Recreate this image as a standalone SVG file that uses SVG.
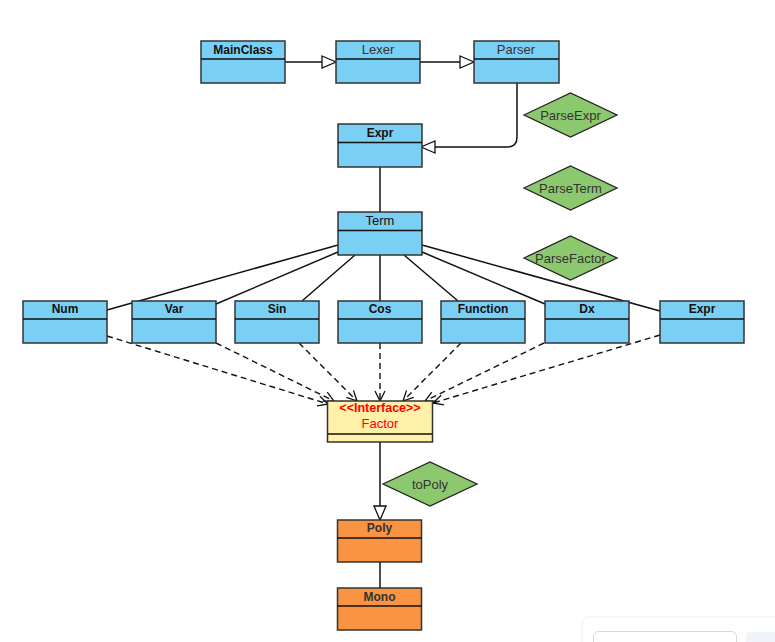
<svg xmlns="http://www.w3.org/2000/svg" width="775" height="642" viewBox="0 0 775 642">
<defs>
<style>
.cls{fill:#7ACFF5;stroke:#333;stroke-width:1.5}
.org{fill:#FA9442;stroke:#333;stroke-width:1.5}
.ifc{fill:#FFF0AA;stroke:#333;stroke-width:1.5}
.dia{fill:#8CC86E;stroke:#222;stroke-width:1.3}
.t{font-family:"Liberation Sans",Arial,sans-serif;font-size:12px;text-anchor:middle}
.b{font-weight:bold;fill:#111}
.r{fill:#333;font-size:13px}
.dt{font-family:"Liberation Sans",Arial,sans-serif;font-size:13px;text-anchor:middle;fill:#333}
.ln{fill:none;stroke:#111;stroke-width:1.5}
.dash{fill:none;stroke:#111;stroke-width:1.4;stroke-dasharray:6 4}
.red{font-family:"Liberation Sans",Arial,sans-serif;text-anchor:middle;fill:#FF0000}
</style>
<marker id="tri" viewBox="0 0 16 14" refX="15" refY="7" markerWidth="16" markerHeight="14" markerUnits="userSpaceOnUse" orient="auto">
<path d="M1,1 L15,7 L1,13 Z" fill="#fff" stroke="#111" stroke-width="1.3"/>
</marker>
<marker id="open" viewBox="0 0 12 12" refX="11" refY="6" markerWidth="12" markerHeight="12" markerUnits="userSpaceOnUse" orient="auto">
<path d="M1,1 L11,6 L1,11" fill="none" stroke="#111" stroke-width="1.3"/>
</marker>
</defs>
<rect width="775" height="642" fill="#fff"/>

<g id="connectors">
<line class="ln" x1="285" y1="62" x2="336" y2="62" marker-end="url(#tri)"/>
<line class="ln" x1="420" y1="62" x2="474" y2="62" marker-end="url(#tri)"/>
<path class="ln" d="M517,83 L517,137 Q517,147 507,147 L421,147" marker-end="url(#tri)"/>
<line class="ln" x1="380" y1="167" x2="380" y2="212"/>
<line class="ln" x1="338" y1="245" x2="107" y2="310"/>
<line class="ln" x1="338" y1="252" x2="216" y2="304"/>
<line class="ln" x1="355" y1="255" x2="302" y2="301"/>
<line class="ln" x1="380" y1="255" x2="380" y2="301"/>
<line class="ln" x1="404" y1="255" x2="458" y2="301"/>
<line class="ln" x1="422" y1="252" x2="545" y2="304"/>
<line class="ln" x1="422" y1="245" x2="660" y2="311"/>
<line class="dash" x1="107" y1="336" x2="328" y2="404" marker-end="url(#open)"/>
<line class="dash" x1="216" y1="343" x2="334" y2="401" marker-end="url(#open)"/>
<line class="dash" x1="299" y1="343" x2="357" y2="401" marker-end="url(#open)"/>
<line class="dash" x1="380" y1="343" x2="380" y2="401" marker-end="url(#open)"/>
<line class="dash" x1="461" y1="343" x2="403" y2="401" marker-end="url(#open)"/>
<line class="dash" x1="544" y1="343" x2="425" y2="401" marker-end="url(#open)"/>
<line class="dash" x1="660" y1="335" x2="433" y2="403" marker-end="url(#open)"/>
<line class="ln" x1="380" y1="442" x2="380" y2="520" marker-end="url(#tri)"/>
<line class="ln" x1="380" y1="562" x2="380" y2="588"/>
</g>

<g id="MainClass"><rect class="cls" x="201" y="41" width="84" height="42"/><line class="ln" x1="201" y1="59" x2="285" y2="59"/><text class="t b" x="243" y="54">MainClass</text></g>
<g id="Lexer"><rect class="cls" x="336" y="41" width="84" height="42"/><line class="ln" x1="336" y1="59" x2="420" y2="59"/><text class="t r" x="378" y="54">Lexer</text></g>
<g id="Parser"><rect class="cls" x="474" y="41" width="85" height="42"/><line class="ln" x1="474" y1="59" x2="559" y2="59"/><text class="t r" x="516" y="54">Parser</text></g>
<g id="Expr"><rect class="cls" x="338" y="124" width="84" height="43"/><line class="ln" x1="338" y1="142.5" x2="422" y2="142.5"/><text class="t b" x="380" y="137">Expr</text></g>
<g id="Term"><rect class="cls" x="338" y="212" width="84" height="43"/><line class="ln" x1="338" y1="230.5" x2="422" y2="230.5"/><text class="t r" x="380" y="225" style="fill:#111">Term</text></g>

<g id="Num"><rect class="cls" x="23" y="301" width="84" height="42"/><line class="ln" x1="23" y1="319" x2="107" y2="319"/><text class="t b" x="65" y="313">Num</text></g>
<g id="Var"><rect class="cls" x="132" y="301" width="84" height="42"/><line class="ln" x1="132" y1="319" x2="216" y2="319"/><text class="t b" x="174" y="313">Var</text></g>
<g id="Sin"><rect class="cls" x="235" y="301" width="84" height="42"/><line class="ln" x1="235" y1="319" x2="319" y2="319"/><text class="t b" x="277" y="313">Sin</text></g>
<g id="Cos"><rect class="cls" x="338" y="301" width="84" height="42"/><line class="ln" x1="338" y1="319" x2="422" y2="319"/><text class="t b" x="380" y="313">Cos</text></g>
<g id="Function"><rect class="cls" x="441" y="301" width="84" height="42"/><line class="ln" x1="441" y1="319" x2="525" y2="319"/><text class="t b" x="483" y="313">Function</text></g>
<g id="Dx"><rect class="cls" x="545" y="301" width="84" height="42"/><line class="ln" x1="545" y1="319" x2="629" y2="319"/><text class="t b" x="587" y="313">Dx</text></g>
<g id="Expr2"><rect class="cls" x="660" y="301" width="84" height="42"/><line class="ln" x1="660" y1="319" x2="744" y2="319"/><text class="t b" x="702" y="313">Expr</text></g>

<g id="Factor"><rect class="ifc" x="327.5" y="401" width="105" height="41"/><line class="ln" x1="327.5" y1="434" x2="432.5" y2="434"/><text class="red" x="380" y="412" font-size="12.5" font-weight="bold">&lt;&lt;Interface&gt;&gt;</text><text class="red" x="380" y="428" font-size="13">Factor</text></g>

<g id="Poly"><rect class="org" x="337.5" y="520" width="84" height="42"/><line class="ln" x1="337.5" y1="538" x2="421.5" y2="538"/><text class="t b" x="379.5" y="532" style="fill:#333">Poly</text></g>
<g id="Mono"><rect class="org" x="337.5" y="588" width="84" height="42"/><line class="ln" x1="337.5" y1="606" x2="421.5" y2="606"/><text class="t b" x="379.5" y="601" style="fill:#333">Mono</text></g>

<g id="ParseExpr"><polygon class="dia" points="524,115 570.5,93 617,115 570.5,137"/><text class="dt" x="570.5" y="119.5">ParseExpr</text></g>
<g id="ParseTerm"><polygon class="dia" points="524,188 570.5,166 617,188 570.5,210"/><text class="dt" x="570.5" y="192.5">ParseTerm</text></g>
<g id="ParseFactor"><polygon class="dia" points="524,258 570.5,236 617,258 570.5,280"/><text class="dt" x="570.5" y="262.5">ParseFactor</text></g>
<g id="toPoly"><polygon class="dia" points="383,484 430,462 477,484 430,506"/><text class="dt" x="430" y="488.5">toPoly</text></g>

<g id="ui-artifact" fill="none">
<rect x="582" y="617" width="200" height="40" rx="6" stroke="#eeeeee"/>
<rect x="593.5" y="631.5" width="143" height="20" rx="5" stroke="#d8d8d8"/>
<rect x="746" y="632" width="40" height="20" rx="4" fill="#f1f4f8"/>
</g>
</svg>
